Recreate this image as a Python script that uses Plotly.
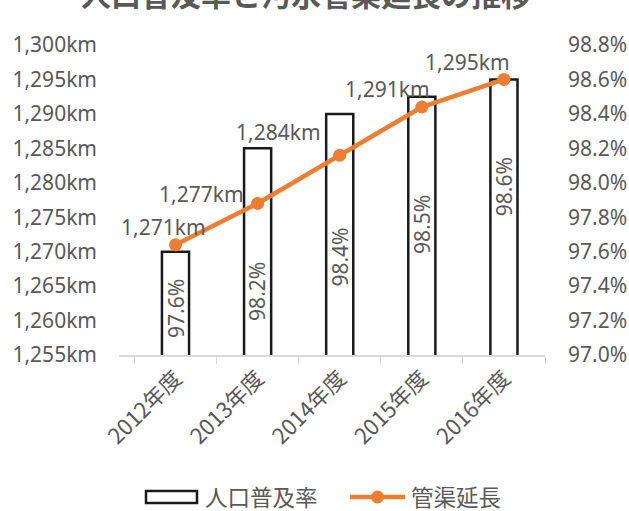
import plotly.graph_objects as go

categories = ["2012年度", "2013年度", "2014年度", "2015年度", "2016年度"]
rate = [97.6, 98.2, 98.4, 98.5, 98.6]          # 人口普及率 (%)
length_km = [1271, 1277, 1284, 1291, 1295]     # 管渠延長 (km)
series_names = ["人口普及率", "管渠延長"]
title_text = "人口普及率と汚水管渠延長の推移"

# label placement styles (not data)
rate_label_pos = [97.27, 97.37, 97.57, 97.76, 97.98]
len_label_dx = [-12, -56, -61, -34, -36]
len_label_dy = [18, 9, 23, 18, 17]

GRAY = "#595959"
ORANGE = "#ED7D31"
FONT = "Noto Sans, Noto Sans CJK JP"
CJK = "Noto Sans CJK JP"

L, R, T, B = 119, 84, 45, 156
W, H = 629, 511
PW, PH = W - L - R, H - T - B


def px(x):
    return (x - L) / PW


def py(y):
    return (H - B - y) / PH


fig = go.Figure()
fig.add_trace(go.Bar(
    x=categories, y=rate, name=series_names[0], yaxis="y",
    width=0.33, marker=dict(color="white", line=dict(color="#1a1a1a", width=2.5)),
    showlegend=False,
))
fig.add_trace(go.Scatter(
    x=categories, y=length_km, name=series_names[1], yaxis="y2",
    mode="lines+markers", line=dict(color=ORANGE, width=4.5),
    marker=dict(color=ORANGE, size=13), showlegend=False,
))

ann = []
for c, v, p in zip(categories, rate, rate_label_pos):
    ann.append(dict(x=c, y=p, xref="x", yref="y", text=f"{v:.1f}%", showarrow=False,
                    textangle=-90, font=dict(size=21, color=GRAY, family=FONT)))
for c, v, dx, dy in zip(categories, length_km, len_label_dx, len_label_dy):
    ann.append(dict(x=c, y=v, xref="x", yref="y2", text=f"{v:,}km", showarrow=False,
                    xshift=dx, yshift=dy, font=dict(size=21, color=GRAY, family=FONT)))

# title (partly cut off at top, as in the reference)
ann.append(dict(x=px(306), y=py(-7), xref="paper", yref="paper", text=f"<b>{title_text}</b>",
                showarrow=False, xanchor="center", yanchor="middle",
                font=dict(size=30, color=GRAY, family=CJK)))

# manual legend
shapes = [
    dict(type="rect", xref="paper", yref="paper", x0=px(146), x1=px(197), y0=py(503), y1=py(491),
         line=dict(color="#1a1a1a", width=2.5), fillcolor="white"),
    dict(type="line", xref="paper", yref="paper", x0=px(350), x1=px(405), y0=py(497), y1=py(497),
         line=dict(color=ORANGE, width=4.5)),
    dict(type="circle", xref="paper", yref="paper", x0=px(371), x1=px(384), y0=py(503.5), y1=py(490.5),
         line=dict(color=ORANGE, width=0), fillcolor=ORANGE),
]
ann.append(dict(x=px(203), y=py(496), xref="paper", yref="paper", text=series_names[0],
                showarrow=False, xanchor="left", yanchor="middle",
                font=dict(size=22.5, color=GRAY, family=CJK)))
ann.append(dict(x=px(409), y=py(496), xref="paper", yref="paper", text=series_names[1],
                showarrow=False, xanchor="left", yanchor="middle",
                font=dict(size=22.5, color=GRAY, family=CJK)))

fig.update_layout(
    width=W, height=H,
    margin=dict(l=L, r=R, t=T, b=B, autoexpand=False),
    paper_bgcolor="white", plot_bgcolor="white",
    font=dict(family=FONT, color=GRAY, size=21),
    showlegend=False,
    xaxis=dict(type="category", tickangle=-45, showline=True, linecolor="#d9d9d9", linewidth=1.5,
               ticks="outside", tickson="boundaries", tickcolor="#d9d9d9", ticklen=7,
               showgrid=False, automargin=False,
               tickfont=dict(size=22, color=GRAY, family=CJK)),
    yaxis=dict(side="right", range=[97.0, 98.8], dtick=0.2, tickformat=".1f", ticksuffix="%",
               showgrid=False, zeroline=False, showline=False, automargin=False,
               ticklabelstandoff=22, tickfont=dict(size=21, color=GRAY)),
    yaxis2=dict(overlaying="y", side="left", range=[1255, 1300], dtick=5, tickformat=",",
                ticksuffix="km", showgrid=False, zeroline=False, showline=False,
                automargin=False, ticklabelstandoff=21, tickfont=dict(size=21, color=GRAY)),
    annotations=ann,
    shapes=shapes,
)

fig.write_html("out.html", config={"displayModeBar": False},
               post_script="document.body.style.margin='0';document.body.style.overflow='hidden';")
